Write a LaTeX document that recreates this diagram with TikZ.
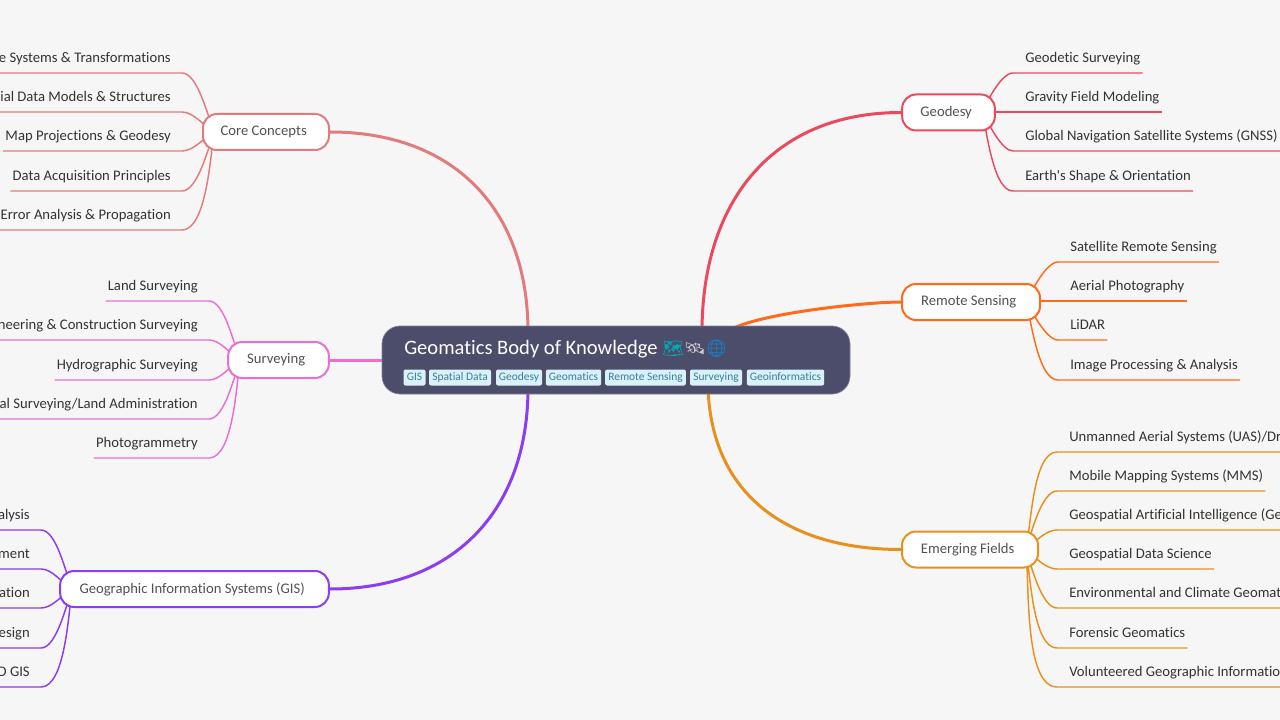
\documentclass[tikz,border=0pt]{standalone}
\usepackage{fontspec}
\usetikzlibrary{backgrounds}
\newfontfamily\mapfont[Ligatures=NoCommon]{Carlito}
\newfontfamily\emojifont{Noto Emoji}
\definecolor{pagecol}{HTML}{F6F6F6}
\definecolor{rootcol}{HTML}{4C4D6A}
\definecolor{tagcol}{HTML}{D9F1F8}
\definecolor{tagtext}{HTML}{3B7F96}
\definecolor{inkcol}{HTML}{333333}
\definecolor{corecol}{HTML}{E27C7C}
\definecolor{surveycol}{HTML}{EB6FD3}
\definecolor{giscol}{HTML}{8B3DEF}
\definecolor{geocol}{HTML}{EB4A5E}
\definecolor{remotecol}{HTML}{FF6B1A}
\definecolor{emergecol}{HTML}{E8901E}
\tikzset{
  branch/.style={draw=#1,fill=white,line width=1.5pt,rounded corners=10.5pt,text=inkcol!85,
    font=\mapfont\fontsize{11}{13}\selectfont,minimum height=27pt,inner ysep=0pt,
    execute at end node=\kern3.5pt},
  leafl/.style={anchor=south east,text=inkcol,font=\mapfont\fontsize{11}{13}\selectfont,
    inner xsep=1.5pt,inner ysep=5pt,text height=8pt,text depth=2.5pt,
    execute at end node=\kern6.75pt},
  leafr/.style={anchor=south west,text=inkcol,font=\mapfont\fontsize{11}{13}\selectfont,
    inner xsep=1.5pt,inner ysep=5pt,text height=8pt,text depth=2.5pt,
    execute at begin node=\kern7.5pt},
  link/.style={line width=1.1pt,looseness=0.6},
  main/.style={line width=2.25pt,looseness=1.12},
  tag/.style={fill=tagcol,text=tagtext,rounded corners=1.5pt,font=\mapfont\fontsize{8.6}{10}\selectfont,
    inner sep=0pt,minimum height=12pt,text height=6.5pt,text depth=2pt}
}
\begin{document}
\begin{tikzpicture}[x=0.75pt,y=-0.75pt]
  \useasboundingbox (0,0) rectangle (1280,720);

  % centre
  \node[fill=rootcol,draw=rootcol!70!white,line width=0.5pt,rounded corners=13.5pt,minimum width=351pt,minimum height=51pt] (root) at (616,360) {};
  \node[anchor=base west,inner sep=0pt,text=white,font=\mapfont\fontsize{15.4}{18}\selectfont] (title) at (404,354)
    {Geomatics Body of Knowledge {\emojifont\fontsize{12.8}{18}\selectfont\textcolor{cyan!60!green}{🗺}\textcolor{gray!40!white}{🛰}\textcolor{cyan!70!blue}{🌐}}};
  \node[tag,minimum width=16.5pt] (tgis) at (414.5,377.5) {GIS};
  \node[tag,minimum width=46.5pt] (tspatial) at (460,377.5) {Spatial Data};
  \node[tag,minimum width=34.5pt] (tgeodesy) at (519,377.5) {Geodesy};
  \node[tag,minimum width=41.5pt] (tgeomatics) at (573.5,377.5) {Geomatics};
  \node[tag,minimum width=60.5pt] (tremote) at (645.5,377.5) {Remote Sensing};
  \node[tag,minimum width=39pt] (tsurvey) at (716,377.5) {Surveying};
  \node[tag,minimum width=58pt] (tinfo) at (785.5,377.5) {Geoinformatics};

  % branches
  \node[branch=corecol,minimum width=94.5pt] (core) at (266,132) {Core Concepts};
  \node[branch=surveycol,minimum width=75.5pt] (survey) at (278.5,360) {Surveying};
  \node[branch=giscol,minimum width=201.5pt] (gis) at (194.5,589) {Geographic Information Systems (GIS)};
  \node[branch=geocol,minimum width=69.5pt] (geo) at (948.5,112.5) {Geodesy};
  \node[branch=remotecol,minimum width=103.5pt] (remote) at (971,302) {Remote Sensing};
  \node[branch=emergecol,minimum width=102pt] (emerge) at (970,549.5) {Emerging Fields};

  % leaves, left side
  \node[leafl] (cc1) at (182,73) {\makebox[142pt][r]{e Systems \& Transformations}};
  \node[leafl] (cc2) at (182,112) {\makebox[142pt][r]{tial Data Models \& Structures}};
  \node[leafl] (cc3) at (182,151) {Map Projections \& Geodesy};
  \node[leafl] (cc4) at (182,191) {Data Acquisition Principles};
  \node[leafl] (cc5) at (182,230) {\makebox[142pt][r]{Error Analysis \& Propagation}};

  \node[leafl] (sv1) at (209,301) {Land Surveying};
  \node[leafl] (sv2) at (209,340) {\makebox[162pt][r]{neering \& Construction Surveying}};
  \node[leafl] (sv3) at (209,380) {Hydrographic Surveying};
  \node[leafl] (sv4) at (209,419) {\makebox[162pt][r]{al Surveying/Land Administration}};
  \node[leafl] (sv5) at (209,458) {Photogrammetry};

  \node[leafl] (gs1) at (41,530) {\makebox[40pt][r]{alysis}};
  \node[leafl] (gs2) at (41,569) {\makebox[40pt][r]{ment}};
  \node[leafl] (gs3) at (41,608) {\makebox[40pt][r]{ation}};
  \node[leafl] (gs4) at (41,648) {\makebox[40pt][r]{esign}};
  \node[leafl] (gs5) at (41,687) {\makebox[40pt][r]{D GIS}};

  % leaves, right side
  \node[leafr] (gd1) at (1013,73) {Geodetic Surveying};
  \node[leafr] (gd2) at (1013,112.2) {Gravity Field Modeling};
  \node[leafr] (gd3) at (1013,151) {\makebox[215pt][l]{Global Navigation Satellite Systems (GNSS)}};
  \node[leafr] (gd4) at (1013,191) {Earth's Shape \& Orientation};

  \node[leafr] (rs1) at (1058,262) {Satellite Remote Sensing};
  \node[leafr] (rs2) at (1058,301.2) {Aerial Photography};
  \node[leafr] (rs3) at (1058,340) {LiDAR};
  \node[leafr] (rs4) at (1058,380) {Image Processing \& Analysis};

  \node[leafr] (ef1) at (1057,452) {\makebox[190pt][l]{Unmanned Aerial Systems (UAS)/Dr}};
  \node[leafr] (ef2) at (1057,491) {Mobile Mapping Systems (MMS)};
  \node[leafr] (ef3) at (1057,530) {\makebox[190pt][l]{Geospatial Artificial Intelligence (Ge}};
  \node[leafr] (ef4) at (1057,569) {Geospatial Data Science};
  \node[leafr] (ef5) at (1057,608) {\makebox[190pt][l]{Environmental and Climate Geomat}};
  \node[leafr] (ef6) at (1057,648) {Forensic Geomatics};
  \node[leafr] (ef7) at (1057,687) {\makebox[190pt][l]{Volunteered Geographic Informatio}};

  % hubs behind the branches, and entry points behind the centre
  \coordinate (cchub) at (214,132); \coordinate (svhub) at (240,360); \coordinate (gshub) at (72,589);
  \coordinate (gdhub) at (982,112.2); \coordinate (rshub) at (1026,301.2); \coordinate (efhub) at (1026,549.5);
  \coordinate (rcore) at (528,332); \coordinate (rgis) at (528,388); \coordinate (rgeo) at (702,332);
  \coordinate (rremote) at (730,330); \coordinate (remerge) at (708,388);

  \begin{scope}[on background layer]
    \fill[pagecol] (0,0) rectangle (1280,720);
    \draw[main,corecol] (core.east) to[out=0,in=90] (rcore);
    \draw[main,surveycol] (survey.east) -- (root.west |- survey.east);
    \draw[main,giscol] (gis.east) to[out=0,in=270] (rgis);
    \draw[main,geocol] (geo.west) to[out=180,in=90] (rgeo);
    \draw[main,remotecol,looseness=0.5] (remote.west) to[out=180,in=30] (rremote);
    \draw[main,emergecol] (emerge.west) to[out=180,in=272] (remerge);

    \draw[link,corecol] (cchub) to[out=112,in=0] (cc1.south east) -- (cc1.south west);
    \draw[link,corecol] (cchub) to[out=150,in=0,looseness=0.8] (cc2.south east) -- (cc2.south west);
    \draw[link,corecol] (cchub) to[out=210,in=0,looseness=0.8] (cc3.south east) -- (cc3.south west);
    \draw[link,corecol] (cchub) to[out=250,in=0] (cc4.south east) -- (cc4.south west);
    \draw[link,corecol] (cchub) to[out=262,in=0] (cc5.south east) -- (cc5.south west);

    \draw[link,surveycol] (svhub) to[out=112,in=0] (sv1.south east) -- (sv1.south west);
    \draw[link,surveycol] (svhub) to[out=150,in=0,looseness=0.8] (sv2.south east) -- (sv2.south west);
    \draw[link,surveycol] (svhub) to[out=210,in=0,looseness=0.8] (sv3.south east) -- (sv3.south west);
    \draw[link,surveycol] (svhub) to[out=250,in=0] (sv4.south east) -- (sv4.south west);
    \draw[link,surveycol] (svhub) to[out=262,in=0] (sv5.south east) -- (sv5.south west);

    \draw[link,giscol] (gshub) to[out=112,in=0] (gs1.south east) -- (gs1.south west);
    \draw[link,giscol] (gshub) to[out=150,in=0,looseness=0.8] (gs2.south east) -- (gs2.south west);
    \draw[link,giscol] (gshub) to[out=210,in=0,looseness=0.8] (gs3.south east) -- (gs3.south west);
    \draw[link,giscol] (gshub) to[out=250,in=0] (gs4.south east) -- (gs4.south west);
    \draw[link,giscol] (gshub) to[out=262,in=0] (gs5.south east) -- (gs5.south west);

    \draw[link,geocol] (gdhub) to[out=65,in=180] (gd1.south west) -- (gd1.south east);
    \draw[link,geocol] (gdhub) -- (gd2.south west) -- (gd2.south east);
    \draw[link,geocol] (gdhub) to[out=302,in=180] (gd3.south west) -- (gd3.south east);
    \draw[link,geocol] (gdhub) to[out=285,in=180] (gd4.south west) -- (gd4.south east);

    \draw[link,remotecol] (rshub) to[out=60,in=180] (rs1.south west) -- (rs1.south east);
    \draw[link,remotecol] (rshub) -- (rs2.south west) -- (rs2.south east);
    \draw[link,remotecol] (rshub) to[out=300,in=180] (rs3.south west) -- (rs3.south east);
    \draw[link,remotecol] (rshub) to[out=285,in=180] (rs4.south west) -- (rs4.south east);

    \draw[link,emergecol] (efhub) to[out=78,in=180] (ef1.south west) -- (ef1.south east);
    \draw[link,emergecol] (efhub) to[out=72,in=180] (ef2.south west) -- (ef2.south east);
    \draw[link,emergecol] (efhub) to[out=40,in=180,looseness=0.8] (ef3.south west) -- (ef3.south east);
    \draw[link,emergecol] (efhub) to[out=320,in=180,looseness=0.8] (ef4.south west) -- (ef4.south east);
    \draw[link,emergecol] (efhub) to[out=288,in=180] (ef5.south west) -- (ef5.south east);
    \draw[link,emergecol] (efhub) to[out=280,in=180] (ef6.south west) -- (ef6.south east);
    \draw[link,emergecol] (efhub) to[out=276,in=180] (ef7.south west) -- (ef7.south east);
  \end{scope}
\end{tikzpicture}
\end{document}
